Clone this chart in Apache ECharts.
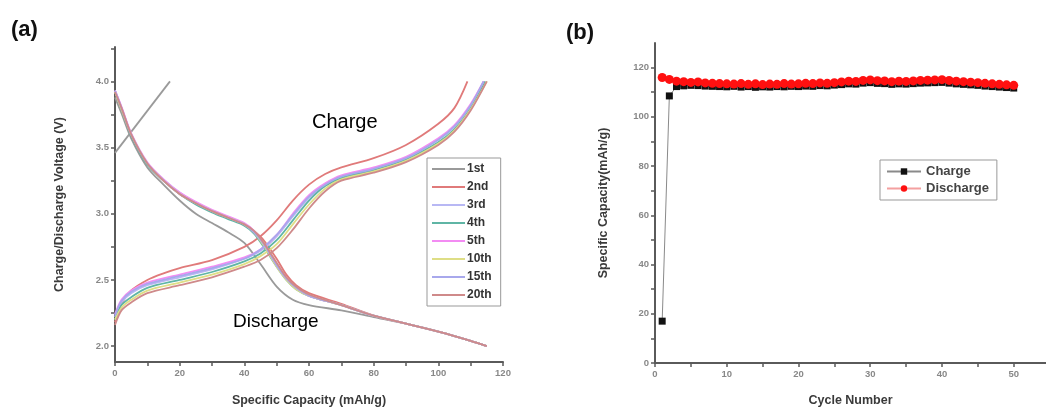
<!DOCTYPE html>
<html><head><meta charset="utf-8">
<script src="https://cdn.jsdelivr.net/npm/echarts@6/dist/echarts.min.js"></script>
<style>html,body{margin:0;padding:0;background:#fff}#c{width:1046px;height:410px}</style>
</head><body><div id="c"></div>
<script>
// ---- Panel (a): charge/discharge profiles ----
const cycleNames = ['1st','2nd','3rd','4th','5th','10th','15th','20th'];
const cycleColors = ['#9a9a9a','#e07a7a','#b8b8f4','#5fb5a5','#f38cf3','#dede86','#a8a8ec','#cf8a8a'];

const dis1st  = [[0,3.88],[2,3.76],[5,3.57],[10,3.35],[15,3.22],[20,3.10],[25,3.00],[30,2.93],[35,2.86],[40,2.78],[45,2.62],[50,2.45],[55,2.35],[60,2.31],[70,2.27],[80,2.22],[90,2.17],[100,2.11],[110,2.04],[115,2.00]];
const dis2nd  = [[0,3.93],[2,3.80],[5,3.60],[10,3.38],[15,3.25],[20,3.15],[25,3.08],[30,3.02],[35,2.97],[40,2.92],[43,2.87],[46,2.80],[50,2.66],[53,2.54],[56,2.46],[60,2.40],[70,2.32],[80,2.23],[90,2.17],[100,2.11],[110,2.04],[115,2.00]];
const dis3rd  = [[0,3.93],[2,3.80],[5,3.60],[10,3.38],[15,3.26],[20,3.16],[25,3.08],[30,3.02],[35,2.97],[40,2.92],[43,2.86],[46,2.76],[50,2.61],[53,2.51],[56,2.44],[60,2.38],[70,2.31],[80,2.23],[90,2.17],[100,2.11],[110,2.04],[115,2.00]];
const dis4th  = [[0,3.92],[2,3.79],[5,3.59],[10,3.37],[15,3.25],[20,3.15],[25,3.07],[30,3.01],[35,2.96],[40,2.91],[43,2.85],[46,2.75],[50,2.60],[53,2.50],[56,2.43],[60,2.38],[70,2.31],[80,2.23],[90,2.17],[100,2.11],[110,2.04],[115,2.00]];
const dis5th  = [[0,3.93],[2,3.81],[5,3.61],[10,3.39],[15,3.26],[20,3.16],[25,3.09],[30,3.03],[35,2.98],[40,2.93],[43,2.87],[46,2.77],[50,2.61],[53,2.51],[56,2.44],[60,2.38],[70,2.31],[80,2.23],[90,2.17],[100,2.11],[110,2.04],[115,2.00]];
const dis10th = [[0,3.92],[2,3.79],[5,3.60],[10,3.38],[15,3.25],[20,3.15],[25,3.08],[30,3.02],[35,2.97],[40,2.92],[43,2.86],[46,2.76],[50,2.60],[53,2.50],[56,2.43],[60,2.38],[70,2.31],[80,2.23],[90,2.17],[100,2.11],[110,2.04],[115,2.00]];
const dis15th = [[0,3.93],[2,3.80],[5,3.60],[10,3.38],[15,3.25],[20,3.15],[25,3.08],[30,3.02],[35,2.97],[40,2.92],[43,2.86],[46,2.77],[50,2.61],[53,2.51],[56,2.44],[60,2.38],[70,2.31],[80,2.23],[90,2.17],[100,2.11],[110,2.04],[115,2.00]];
const dis20th = [[0,3.92],[2,3.80],[5,3.60],[10,3.38],[15,3.25],[20,3.15],[25,3.08],[30,3.02],[35,2.97],[40,2.92],[43,2.87],[46,2.78],[50,2.63],[53,2.52],[56,2.45],[60,2.39],[70,2.31],[80,2.23],[90,2.17],[100,2.11],[110,2.04],[115,2.00]];

const chg1st  = [[0,3.46],[17,4.00]];
const chg2nd  = [[0,2.18],[2,2.32],[5,2.42],[10,2.50],[15,2.55],[20,2.59],[30,2.65],[40,2.75],[45,2.83],[50,2.95],[55,3.10],[60,3.22],[65,3.30],[70,3.35],[80,3.42],[90,3.52],[100,3.68],[105,3.80],[109,4.00]];
const chg3rd  = [[0,2.22],[2,2.33],[5,2.40],[10,2.46],[20,2.52],[30,2.58],[40,2.66],[45,2.72],[50,2.83],[55,2.98],[60,3.12],[65,3.22],[70,3.28],[80,3.34],[90,3.42],[100,3.56],[105,3.66],[110,3.82],[114,4.00]];
const chg4th  = [[0,2.20],[2,2.31],[5,2.37],[10,2.44],[20,2.50],[30,2.56],[40,2.64],[45,2.70],[50,2.80],[55,2.95],[60,3.10],[65,3.21],[70,3.27],[80,3.33],[90,3.41],[100,3.54],[105,3.64],[110,3.80],[114.5,4.00]];
const chg5th  = [[0,2.24],[2,2.35],[5,2.42],[10,2.48],[20,2.54],[30,2.60],[40,2.67],[45,2.73],[50,2.84],[55,3.00],[60,3.14],[65,3.23],[70,3.29],[80,3.35],[90,3.43],[100,3.57],[105,3.67],[110,3.83],[114,4.00]];
const chg10th = [[0,2.20],[2,2.29],[5,2.35],[10,2.42],[20,2.48],[30,2.54],[40,2.62],[45,2.68],[50,2.77],[55,2.92],[60,3.07],[65,3.19],[70,3.26],[80,3.32],[90,3.40],[100,3.53],[105,3.63],[110,3.79],[115,4.00]];
const chg15th = [[0,2.23],[2,2.34],[5,2.41],[10,2.47],[20,2.53],[30,2.59],[40,2.66],[45,2.73],[50,2.84],[55,2.99],[60,3.13],[65,3.22],[70,3.28],[80,3.34],[90,3.42],[100,3.56],[105,3.66],[110,3.82],[114,4.00]];
const chg20th = [[0,2.16],[2,2.27],[5,2.33],[10,2.40],[20,2.46],[30,2.52],[40,2.60],[45,2.65],[50,2.74],[55,2.88],[60,3.04],[65,3.17],[70,3.25],[80,3.31],[90,3.39],[100,3.52],[105,3.62],[110,3.78],[115,4.00]];

const dischargeSets = [dis1st,dis2nd,dis3rd,dis4th,dis5th,dis10th,dis15th,dis20th];
const chargeSets = [chg1st,chg2nd,chg3rd,chg4th,chg5th,chg10th,chg15th,chg20th];

const capTicks = [0,10,20,30,40,50,60,70,80,90,100,110,120];
const capLabels = [0,20,40,60,80,100,120];
const voltTicks = [2,2.25,2.5,2.75,3,3.25,3.5,3.75,4,4.25];
const voltLabels = [2,2.5,3,3.5,4];

// ---- Panel (b): cycling ----
const cycleNumbers = [1,2,3,4,5,6,7,8,9,10,11,12,13,14,15,16,17,18,19,20,21,22,23,24,25,26,27,28,29,30,31,32,33,34,35,36,37,38,39,40,41,42,43,44,45,46,47,48,49,50];
const chargeCap = [17,108.5,112.3,112.6,112.8,112.7,112.5,112.4,112.3,112.2,112.4,112.1,112.3,112.0,112.2,112.1,112.3,112.2,112.4,112.3,112.5,112.4,112.7,112.6,112.9,113.1,113.4,113.3,113.7,113.9,113.6,113.5,113.2,113.4,113.3,113.5,113.7,113.8,113.9,114.0,113.7,113.4,113.2,113.0,112.8,112.5,112.3,112.1,111.9,111.7];
const dischargeCap = [116,115.2,114.5,114.3,114.0,114.2,113.8,113.6,113.5,113.4,113.3,113.5,113.2,113.4,113.1,113.3,113.2,113.5,113.3,113.4,113.6,113.5,113.8,113.6,113.9,114.2,114.5,114.4,114.8,115.0,114.7,114.6,114.3,114.5,114.4,114.6,114.8,114.9,115.0,115.1,114.8,114.5,114.3,114.1,113.9,113.6,113.4,113.2,113.0,112.8];
const cycTicks = [0,5,10,15,20,25,30,35,40,45,50];
const cycLabels = [0,10,20,30,40,50];
const capBTicks = [0,10,20,30,40,50,60,70,80,90,100,110,120];
const capBLabels = [0,20,40,60,80,100,120];

const FONT = '"Liberation Sans", Arial, sans-serif';
const axisLine = {show:true, lineStyle:{color:'#5a5a5a', width:2}};
const tickStyle = {lineStyle:{color:'#5a5a5a', width:1.5}, length:4};
const lblStyle = {color:'#888', fontSize:9.5, fontWeight:'bold', fontFamily:FONT, margin:6};
const nameStyle = {color:'#3a3a3a', fontSize:12.5, fontWeight:'bold', fontFamily:FONT};

const series = [];
cycleNames.forEach((n,i)=>{
  series.push({name:n, type:'line', xAxisIndex:0, yAxisIndex:0, data:dischargeSets[i], smooth:0.3, showSymbol:false,
    lineStyle:{color:cycleColors[i], width:1.8}, itemStyle:{color:cycleColors[i]}, z:2+i});
  series.push({name:n, type:'line', xAxisIndex:0, yAxisIndex:0, data:chargeSets[i], smooth:0.3, showSymbol:false,
    lineStyle:{color:cycleColors[i], width:1.8}, itemStyle:{color:cycleColors[i]}, z:2+i});
});
series.push({name:'Charge', type:'line', xAxisIndex:1, yAxisIndex:1,
  data:cycleNumbers.map((c,i)=>[c,chargeCap[i]]), symbol:'rect', symbolSize:7,
  lineStyle:{color:'#8a8a8a', width:1}, itemStyle:{color:'#111'}, z:3});
series.push({name:'Discharge', type:'line', xAxisIndex:1, yAxisIndex:1,
  data:cycleNumbers.map((c,i)=>[c,dischargeCap[i]]), symbol:'circle', symbolSize:9,
  lineStyle:{color:'#f4a0a0', width:1}, itemStyle:{color:'#ff1010'}, z:4});

const chart = echarts.init(document.getElementById('c'), null, {renderer:'canvas'});
chart.setOption({
  backgroundColor:'#fff',
  animation:false,
  title:[
    {text:'(a)', left:6, top:14, textStyle:{fontSize:22, fontWeight:'bold', fontFamily:FONT, color:'#111'}},
    {text:'(b)', left:561, top:17, textStyle:{fontSize:22, fontWeight:'bold', fontFamily:FONT, color:'#111'}}
  ],
  grid:[
    {left:115, top:47, width:388, bottom:48, outerBoundsMode:'none', containLabel:false},
    {left:655, top:43, right:0, bottom:47, outerBoundsMode:'none', containLabel:false}
  ],
  xAxis:[
    {type:'value', gridIndex:0, min:0, max:120,
     name:'Specific Capacity (mAh/g)', nameLocation:'middle', nameGap:32, nameTextStyle:nameStyle,
     axisLine:axisLine, axisTick:Object.assign({customValues:capTicks}, tickStyle),
     axisLabel:Object.assign({customValues:capLabels}, lblStyle), splitLine:{show:false}},
    {type:'value', gridIndex:1, min:0, max:54.5,
     name:'Cycle Number', nameLocation:'middle', nameGap:31, nameTextStyle:nameStyle,
     axisLine:axisLine, axisTick:Object.assign({customValues:cycTicks}, tickStyle),
     axisLabel:Object.assign({customValues:cycLabels}, lblStyle), splitLine:{show:false}}
  ],
  yAxis:[
    {type:'value', gridIndex:0, min:1.88, max:4.26,
     name:'Charge/Discharge Voltage (V)', nameLocation:'middle', nameGap:49, nameTextStyle:nameStyle,
     axisLine:axisLine, axisTick:Object.assign({customValues:voltTicks}, tickStyle),
     axisLabel:Object.assign({customValues:voltLabels, formatter:v=>Number(v).toFixed(1)}, lblStyle), splitLine:{show:false}},
    {type:'value', gridIndex:1, min:0, max:130,
     name:'Specific Capacity(mAh/g)', nameLocation:'middle', nameGap:45, nameTextStyle:nameStyle,
     axisLine:axisLine, axisTick:Object.assign({customValues:capBTicks}, tickStyle),
     axisLabel:Object.assign({customValues:capBLabels}, lblStyle), splitLine:{show:false}}
  ],
  legend:[
    {data:cycleNames, orient:'vertical', left:427, top:158, itemWidth:33, itemHeight:2, itemGap:6,
     icon:'rect', borderColor:'#999', borderWidth:1, padding:[5,9,5,5],
     textStyle:{fontSize:12, fontWeight:'bold', color:'#333', fontFamily:FONT, padding:[0,0,0,-3]}},
    {data:['Charge','Discharge'], orient:'vertical', left:880, top:160, itemWidth:34, itemHeight:8, itemGap:4,
     borderColor:'#999', borderWidth:1, padding:[5,8,5,6],
     textStyle:{fontSize:13, fontWeight:'bold', color:'#444', fontFamily:FONT}}
  ],
  graphic:[
    {type:'text', left:312, top:112, style:{text:'Charge', fontSize:20, fontFamily:FONT, fill:'#000'}},
    {type:'text', left:233, top:312, style:{text:'Discharge', fontSize:19, fontFamily:FONT, fill:'#000'}}
  ],
  series:series
});
</script></body></html>
